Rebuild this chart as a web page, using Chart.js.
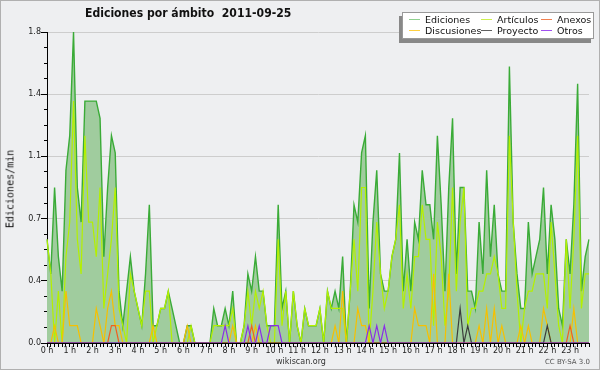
<!DOCTYPE html>
<html>
<head>
<meta charset="utf-8">
<script src="https://cdn.jsdelivr.net/npm/chart.js@4.4.1/dist/chart.umd.min.js"></script>
<style>
  html, body { margin: 0; padding: 0; }
  body { width: 600px; height: 370px; overflow: hidden; }
  #frame {
    position: relative; width: 600px; height: 370px; box-sizing: border-box;
    border: 1px solid #b0b0b0; background: #eeeff1;
    font-family: "DejaVu Sans", sans-serif; color: #111;
  }
  #chart { position: absolute; left: -1px; top: -1px; }
  .txt { position: absolute; white-space: nowrap; }
  #title {
    left: 84px; top: 4px; font-size: 12.5px; font-weight: bold;
    transform: scaleX(0.87); transform-origin: 0 0;
  }
  #ytitle {
    left: 9px; top: 188px; font-family: "DejaVu Sans Mono", monospace; font-size: 10px;
    transform: translate(-50%, -50%) rotate(-90deg);
  }
  #legend {
    position: absolute; left: 401px; top: 11px; width: 190px; height: 25px;
    background: #fff; border: 1px solid #999; box-shadow: -3px 4px 0 #888;
    font-size: 9.5px;
  }
  .item { position: absolute; height: 11px; line-height: 11px; }
  .item i { position: absolute; left: 0; top: 5px; width: 11px; height: 1px; }
  .item span { position: absolute; left: 16px; top: 0; }
  #site { left: 0; width: 600px; text-align: center; top: 356px; font-size: 8px; color: #333; }
  #lic { right: 9px; top: 357px; font-size: 7px; color: #555; }
</style>
</head>
<body>
<div id="frame">
  <canvas id="chart" width="600" height="370"></canvas>
  <div class="txt" id="title">Ediciones por ámbito&nbsp;&nbsp;2011-09-25</div>
  <div class="txt" id="ytitle">Ediciones/min</div>
  <div id="legend"></div>
  <div class="txt" id="site">wikiscan.org</div>
  <div class="txt" id="lic">CC BY-SA 3.0</div>
</div>
<script>
// one value per 10 minutes, 0:00 .. 23:50
let hourLabels = ['0 h', '1 h', '2 h', '3 h', '4 h', '5 h', '6 h', '7 h', '8 h', '9 h', '10 h', '11 h',
    '12 h', '13 h', '14 h', '15 h', '16 h', '17 h', '18 h', '19 h', '20 h', '21 h', '22 h', '23 h'];
let minuteLabels = ['00', '10', '20', '30', '40', '50'];
let yTickLabels = ['0.0', '0.4', '0.7', '1.1', '1.4', '1.8'];

let ediciones = [
    0.6, 0.4, 0.9, 0.5, 0.3, 1.0, 1.2, 1.8, 0.9, 0.7, 1.4, 1.4, 1.4, 1.4, 1.3, 0.5, 0.9, 1.2,
    1.1, 0.3, 0.1, 0.3, 0.5, 0.3, 0.2, 0.1, 0.4, 0.8, 0.1, 0.1, 0.2, 0.2, 0.3, 0.2, 0.1, 0.0,
    0.0, 0.1, 0.1, 0.0, 0.0, 0.0, 0.0, 0.0, 0.2, 0.1, 0.1, 0.2, 0.1, 0.3, 0.0, 0.0, 0.1, 0.4,
    0.3, 0.5, 0.3, 0.3, 0.1, 0.1, 0.1, 0.8, 0.2, 0.3, 0.0, 0.3, 0.1, 0.0, 0.2, 0.1, 0.1, 0.1,
    0.2, 0.0, 0.3, 0.2, 0.3, 0.2, 0.5, 0.0, 0.3, 0.8, 0.7, 1.1, 1.2, 0.2, 0.7, 1.0, 0.4, 0.3,
    0.3, 0.5, 0.6, 1.1, 0.3, 0.6, 0.3, 0.7, 0.6, 1.0, 0.8, 0.8, 0.6, 1.2, 0.8, 0.3, 0.9, 1.3,
    0.4, 0.9, 0.9, 0.3, 0.3, 0.2, 0.7, 0.4, 1.0, 0.5, 0.8, 0.4, 0.3, 0.3, 1.6, 0.7, 0.4, 0.2,
    0.2, 0.7, 0.4, 0.5, 0.6, 0.9, 0.4, 0.8, 0.6, 0.2, 0.1, 0.6, 0.4, 0.8, 1.5, 0.3, 0.5, 0.6
];
let articulos = [
    0.6, 0.4, 0.0, 0.3, 0.0, 0.5, 0.7, 1.4, 0.6, 0.4, 1.2, 0.7, 0.7, 0.5, 0.9, 0.2, 0.4, 0.6,
    0.9, 0.2, 0.1, 0.0, 0.4, 0.3, 0.2, 0.1, 0.3, 0.3, 0.0, 0.1, 0.2, 0.2, 0.3, 0.0, 0.0, 0.0,
    0.0, 0.0, 0.1, 0.0, 0.0, 0.0, 0.0, 0.0, 0.1, 0.1, 0.1, 0.1, 0.1, 0.2, 0.0, 0.0, 0.1, 0.3,
    0.1, 0.3, 0.2, 0.3, 0.1, 0.0, 0.0, 0.6, 0.1, 0.3, 0.0, 0.3, 0.1, 0.0, 0.2, 0.1, 0.1, 0.1,
    0.2, 0.0, 0.3, 0.2, 0.2, 0.2, 0.2, 0.0, 0.3, 0.6, 0.3, 0.9, 0.9, 0.0, 0.3, 0.7, 0.4, 0.2,
    0.3, 0.5, 0.6, 0.8, 0.2, 0.4, 0.2, 0.5, 0.5, 0.8, 0.6, 0.6, 0.1, 0.7, 0.5, 0.1, 0.3, 0.9,
    0.3, 0.7, 0.9, 0.1, 0.2, 0.2, 0.3, 0.3, 0.4, 0.4, 0.5, 0.4, 0.2, 0.2, 1.2, 0.7, 0.3, 0.0,
    0.2, 0.3, 0.3, 0.4, 0.4, 0.4, 0.2, 0.7, 0.4, 0.1, 0.0, 0.6, 0.2, 0.6, 1.2, 0.2, 0.4, 0.4
];
let anexos = [
    0.0, 0.0, 0.0, 0.0, 0.0, 0.0, 0.0, 0.0, 0.0, 0.0, 0.0, 0.0, 0.0, 0.0, 0.0, 0.0, 0.0, 0.1,
    0.1, 0.0, 0.0, 0.0, 0.0, 0.0, 0.0, 0.0, 0.0, 0.0, 0.0, 0.0, 0.0, 0.0, 0.0, 0.0, 0.0, 0.0,
    0.0, 0.0, 0.0, 0.0, 0.0, 0.0, 0.0, 0.0, 0.0, 0.0, 0.0, 0.0, 0.0, 0.0, 0.0, 0.0, 0.0, 0.0,
    0.1, 0.0, 0.0, 0.0, 0.0, 0.0, 0.0, 0.0, 0.0, 0.0, 0.0, 0.0, 0.0, 0.0, 0.0, 0.0, 0.0, 0.0,
    0.0, 0.0, 0.0, 0.0, 0.0, 0.0, 0.0, 0.0, 0.0, 0.0, 0.0, 0.0, 0.0, 0.0, 0.0, 0.0, 0.0, 0.0,
    0.0, 0.0, 0.0, 0.0, 0.0, 0.0, 0.0, 0.0, 0.0, 0.0, 0.0, 0.0, 0.0, 0.0, 0.0, 0.0, 0.0, 0.0,
    0.0, 0.0, 0.0, 0.0, 0.0, 0.0, 0.0, 0.0, 0.0, 0.0, 0.0, 0.0, 0.0, 0.0, 0.0, 0.0, 0.0, 0.0,
    0.0, 0.0, 0.0, 0.0, 0.0, 0.0, 0.0, 0.0, 0.0, 0.0, 0.0, 0.0, 0.1, 0.0, 0.0, 0.0, 0.0, 0.0
];
let discusiones = [
    0.0, 0.0, 0.1, 0.0, 0.0, 0.3, 0.1, 0.1, 0.1, 0.0, 0.0, 0.0, 0.0, 0.2, 0.1, 0.0, 0.2, 0.3,
    0.1, 0.1, 0.0, 0.0, 0.0, 0.0, 0.0, 0.0, 0.0, 0.0, 0.1, 0.0, 0.0, 0.0, 0.0, 0.0, 0.0, 0.0,
    0.0, 0.1, 0.0, 0.0, 0.0, 0.0, 0.0, 0.0, 0.0, 0.0, 0.0, 0.0, 0.0, 0.1, 0.0, 0.0, 0.0, 0.0,
    0.0, 0.1, 0.0, 0.0, 0.0, 0.0, 0.0, 0.0, 0.0, 0.0, 0.0, 0.0, 0.0, 0.0, 0.0, 0.0, 0.0, 0.0,
    0.0, 0.0, 0.0, 0.0, 0.1, 0.0, 0.3, 0.0, 0.0, 0.0, 0.2, 0.1, 0.1, 0.0, 0.0, 0.0, 0.0, 0.0,
    0.0, 0.0, 0.0, 0.0, 0.0, 0.0, 0.0, 0.2, 0.1, 0.1, 0.1, 0.0, 0.4, 0.0, 0.0, 0.0, 0.4, 0.0,
    0.0, 0.0, 0.0, 0.0, 0.0, 0.0, 0.1, 0.0, 0.2, 0.0, 0.2, 0.0, 0.1, 0.0, 0.0, 0.0, 0.0, 0.1,
    0.0, 0.1, 0.0, 0.0, 0.0, 0.2, 0.1, 0.0, 0.0, 0.0, 0.0, 0.0, 0.0, 0.2, 0.0, 0.0, 0.0, 0.0
];
let proyecto = [
    0.0, 0.0, 0.0, 0.0, 0.0, 0.0, 0.0, 0.0, 0.0, 0.0, 0.0, 0.0, 0.0, 0.0, 0.0, 0.0, 0.0, 0.0,
    0.0, 0.0, 0.0, 0.0, 0.0, 0.0, 0.0, 0.0, 0.0, 0.0, 0.0, 0.0, 0.0, 0.0, 0.0, 0.0, 0.0, 0.0,
    0.0, 0.0, 0.0, 0.0, 0.0, 0.0, 0.0, 0.0, 0.0, 0.0, 0.0, 0.0, 0.0, 0.0, 0.0, 0.0, 0.0, 0.0,
    0.0, 0.0, 0.0, 0.0, 0.0, 0.0, 0.0, 0.0, 0.0, 0.0, 0.0, 0.0, 0.0, 0.0, 0.0, 0.0, 0.0, 0.0,
    0.0, 0.0, 0.0, 0.0, 0.0, 0.0, 0.0, 0.0, 0.0, 0.0, 0.0, 0.0, 0.0, 0.0, 0.0, 0.0, 0.0, 0.0,
    0.0, 0.0, 0.0, 0.0, 0.0, 0.0, 0.0, 0.0, 0.0, 0.0, 0.0, 0.0, 0.0, 0.0, 0.0, 0.0, 0.0, 0.0,
    0.0, 0.2, 0.0, 0.1, 0.0, 0.0, 0.0, 0.0, 0.0, 0.0, 0.0, 0.0, 0.0, 0.0, 0.0, 0.0, 0.0, 0.0,
    0.0, 0.0, 0.0, 0.0, 0.0, 0.0, 0.1, 0.0, 0.0, 0.0, 0.0, 0.0, 0.0, 0.0, 0.0, 0.0, 0.0, 0.0
];
let otros = [
    0.0, 0.0, 0.0, 0.0, 0.0, 0.0, 0.0, 0.0, 0.0, 0.0, 0.0, 0.0, 0.0, 0.0, 0.0, 0.0, 0.0, 0.0,
    0.0, 0.0, 0.0, 0.0, 0.0, 0.0, 0.0, 0.0, 0.0, 0.0, 0.0, 0.0, 0.0, 0.0, 0.0, 0.0, 0.0, 0.0,
    0.0, 0.0, 0.0, 0.0, 0.0, 0.0, 0.0, 0.0, 0.0, 0.0, 0.0, 0.1, 0.0, 0.0, 0.0, 0.0, 0.0, 0.1,
    0.0, 0.0, 0.1, 0.0, 0.0, 0.1, 0.1, 0.1, 0.0, 0.0, 0.0, 0.0, 0.0, 0.0, 0.0, 0.0, 0.0, 0.0,
    0.0, 0.0, 0.0, 0.0, 0.0, 0.0, 0.0, 0.0, 0.0, 0.0, 0.0, 0.0, 0.0, 0.1, 0.0, 0.1, 0.0, 0.1,
    0.0, 0.0, 0.0, 0.0, 0.0, 0.0, 0.0, 0.0, 0.0, 0.0, 0.0, 0.0, 0.0, 0.0, 0.0, 0.0, 0.0, 0.0,
    0.0, 0.0, 0.0, 0.0, 0.0, 0.0, 0.0, 0.0, 0.0, 0.0, 0.0, 0.0, 0.0, 0.0, 0.0, 0.0, 0.0, 0.0,
    0.0, 0.0, 0.0, 0.0, 0.0, 0.0, 0.0, 0.0, 0.0, 0.0, 0.0, 0.0, 0.0, 0.0, 0.0, 0.0, 0.0, 0.0
];

let series = [
    { name: 'Ediciones', data: ediciones, color: '#3aab37', key: '#8fd08f' },
    { name: 'Artículos', data: articulos, color: '#b4f000', key: '#cdef50' },
    { name: 'Anexos', data: anexos, color: '#f06020', key: '#f08050' },
    { name: 'Discusiones', data: discusiones, color: '#f6c000', key: '#ffd040' },
    { name: 'Proyecto', data: proyecto, color: '#3c3c3c', key: '#606060' },
    { name: 'Otros', data: otros, color: '#8a2ee8', key: '#a050f0' }
];
// legend layout: Ediciones, Artículos, Anexos / Discusiones, Proyecto, Otros
let legendPos = [[6, 0], [78, 0], [138, 0], [6, 11], [78, 11], [138, 11]];

function slotLabels() {
    let out = [];
    hourLabels.forEach(h => minuteLabels.forEach(m => out.push(h + m)));
    return out;
}

function buildLegend() {
    let box = document.getElementById('legend');
    box.innerHTML = series.map((s, i) =>
        `<div class="item" style="left:${legendPos[i][0]}px;top:${legendPos[i][1] + 1}px">` +
        `<i style="background:${s.key}"></i><span>${s.name}</span></div>`).join('');
}

function buildDatasets() {
    let order = [6, 5, 3, 4, 2, 1];
    return series.map((s, i) => ({
        label: s.name,
        data: s.data,
        borderColor: s.color,
        backgroundColor: i === 0 ? '#a0cc9e' : s.color,
        borderWidth: i === 0 ? 1.4 : 1.2,
        fill: i === 0 ? 'origin' : false,
        pointRadius: 0,
        tension: 0,
        order: order[i]
    }));
}

function renderChart() {
    new Chart(document.getElementById('chart'), {
        type: 'line',
        data: { labels: slotLabels(), datasets: buildDatasets() },
        options: {
            responsive: false,
            animation: false,
            layout: { padding: { top: 32, right: 11, left: 1, bottom: 0 } },
            plugins: { legend: { display: false }, title: { display: false }, tooltip: { enabled: false } },
            scales: {
                x: {
                    offset: false,
                    z: 1,
                    border: { color: '#000', width: 1 },
                    grid: { drawOnChartArea: false, tickLength: 4, color: '#000' },
                    ticks: {
                        autoSkip: false, maxRotation: 0, padding: -1,
                        font: { family: 'DejaVu Sans', size: 8 }, color: '#222',
                        callback: (v, i) => i % 6 === 0 ? hourLabels[i / 6] : ''
                    },
                    afterFit: s => { s.height = 27; }
                },
                y: {
                    min: 0, max: 1.8,
                    border: { color: '#000', width: 1 },
                    grid: {
                        color: c => c.index % 4 === 0 ? '#cdcdcd' : 'rgba(0,0,0,0)',
                        tickColor: '#000', tickLength: 6,
                        tickBorderDash: c => c.index % 4 === 0 ? [] : [0, 3, 3]
                    },
                    ticks: {
                        stepSize: 0.09, autoSkip: false, padding: 0,
                        font: { family: 'DejaVu Sans', size: 8 }, color: '#222',
                        callback: (v, i) => i % 4 === 0 ? yTickLabels[i / 4] : ''
                    },
                    afterFit: s => { s.width = 46; }
                }
            }
        }
    });
}

buildLegend();
renderChart();
</script>
</body>
</html>
